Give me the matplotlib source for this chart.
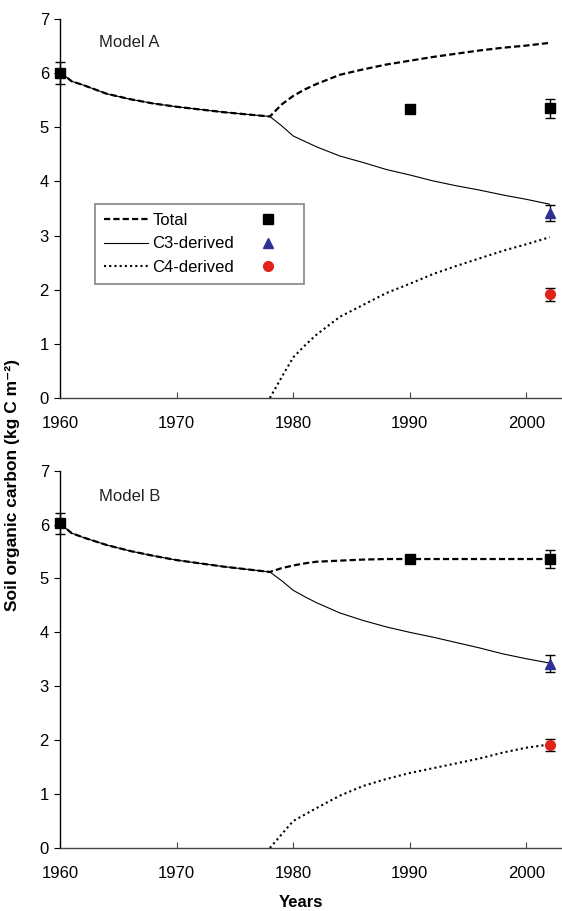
import matplotlib.pyplot as plt
from matplotlib.lines import Line2D
import numpy as np

plt.rcParams['font.family'] = ['Liberation Sans', 'DejaVu Sans']

# model curve years
yrs = [1960, 1961, 1962, 1964, 1966, 1968, 1970, 1972, 1974, 1976, 1978,
       1979, 1980, 1981, 1982, 1984, 1986, 1988, 1990, 1992, 1994, 1996, 1998, 2000, 2002]
yrs_c4 = [1978, 1979, 1980, 1981, 1982, 1984, 1986, 1988, 1990, 1992, 1994, 1996, 1998, 2000, 2002]

# Model A
total_a = [6.02, 5.85, 5.78, 5.62, 5.52, 5.44, 5.38, 5.33, 5.28, 5.24, 5.20,
           5.42, 5.58, 5.70, 5.80, 5.97, 6.07, 6.16, 6.23, 6.30, 6.36, 6.42, 6.47, 6.51, 6.56]
c3_a = [6.02, 5.85, 5.78, 5.62, 5.52, 5.44, 5.38, 5.33, 5.28, 5.24, 5.20,
        5.03, 4.84, 4.74, 4.64, 4.47, 4.35, 4.22, 4.12, 4.01, 3.92, 3.84, 3.75, 3.67, 3.58]
c4_a = [0, 0.38, 0.75, 0.97, 1.17, 1.50, 1.72, 1.94, 2.11, 2.29, 2.44, 2.58, 2.72, 2.84, 2.97]

# Model B
total_b = [6.02, 5.84, 5.76, 5.62, 5.51, 5.42, 5.34, 5.28, 5.22, 5.17, 5.12,
           5.19, 5.24, 5.28, 5.31, 5.33, 5.35, 5.36, 5.36, 5.36, 5.36, 5.36, 5.36, 5.36, 5.36]
c3_b = [6.02, 5.84, 5.76, 5.62, 5.51, 5.42, 5.34, 5.28, 5.22, 5.17, 5.12,
        4.96, 4.78, 4.66, 4.55, 4.36, 4.22, 4.10, 4.00, 3.91, 3.81, 3.71, 3.60, 3.51, 3.43]
c4_b = [0, 0.25, 0.50, 0.62, 0.74, 0.97, 1.15, 1.28, 1.39, 1.48, 1.57, 1.66, 1.77, 1.86, 1.92]

# observations
obs_years = [1960, 1990, 2002]
obs_total_a = [6.0, 5.33, 5.35]
obs_total_a_err = [0.2, 0, 0.17]
obs_total_b = [6.02, 5.36, 5.36]
obs_total_b_err = [0.19, 0, 0.17]
obs_c3_year = 2002
obs_c3_a, obs_c3_a_err = 3.42, 0.15
obs_c4_a, obs_c4_a_err = 1.92, 0.12
obs_c3_b, obs_c3_b_err = 3.42, 0.16
obs_c4_b, obs_c4_b_err = 1.91, 0.12

blue = '#2e3192'
red = '#e2231a'
dash = (0, (2.8, 1.4))
dot = (0, (1, 1.5))

fig = plt.figure(figsize=(5.62, 9.11), dpi=100)
ax_a = fig.add_axes([0.1068, 0.5631, 0.892, 0.416])
ax_b = fig.add_axes([0.1068, 0.0692, 0.892, 0.4142])


def draw(ax, total, c3, c4, ot, ote, oc3, oc3e, oc4, oc4e, title, ty):
    ax.plot(yrs, c3, color='black', lw=0.8, clip_on=False)
    ax.plot(yrs_c4, c4, color='black', lw=1.5, linestyle=dot, clip_on=False)
    ax.plot(yrs, total, color='black', lw=1.6, linestyle=dash, clip_on=False)
    eb = dict(capsize=3.5, elinewidth=1, capthick=1, ecolor='black', linestyle='none', clip_on=False)
    ax.errorbar(obs_years, ot, yerr=ote, marker='s', ms=6.5, color='black', **eb)
    ax.errorbar([obs_c3_year], [oc3], yerr=[oc3e], marker='^', ms=7.5, color=blue,
                markeredgecolor=blue, **eb)
    ax.errorbar([obs_c3_year], [oc4], yerr=[oc4e], marker='o', ms=7, color=red,
                markeredgecolor=red, **eb)
    ax.set_xlim(1960, 2003)
    ax.set_ylim(0, 7)
    ax.set_xticks([1960, 1970, 1980, 1990, 2000])
    ax.set_yticks(range(8))
    for s in ['top', 'right']:
        ax.spines[s].set_visible(False)
    ax.spines['left'].set_linewidth(1)
    ax.spines['bottom'].set_linewidth(1)
    ax.spines['bottom'].set_color('#444')
    ax.tick_params(axis='y', direction='out', length=4, labelsize=12, pad=4)
    ax.tick_params(axis='x', direction='in', length=4, labelsize=12, pad=13, color='#444')
    ax.text(0.078, ty, title, transform=ax.transAxes, fontsize=12, color='#222')


draw(ax_a, total_a, c3_a, c4_a, obs_total_a, obs_total_a_err,
     obs_c3_a, obs_c3_a_err, obs_c4_a, obs_c4_a_err, 'Model A', 0.927)
draw(ax_b, total_b, c3_b, c4_b, obs_total_b, obs_total_b_err,
     obs_c3_b, obs_c3_b_err, obs_c4_b, obs_c4_b_err, 'Model B', 0.92)

handles = [
    Line2D([], [], color='black', lw=1.6, linestyle=dash),
    Line2D([], [], color='black', lw=0.8),
    Line2D([], [], color='black', lw=1.5, linestyle=dot),
    Line2D([], [], color='black', marker='s', ms=6.5, linestyle='none'),
    Line2D([], [], color=blue, marker='^', ms=7.5, linestyle='none'),
    Line2D([], [], color=red, marker='o', ms=7, linestyle='none'),
]
labels = ['Total', 'C3-derived', 'C4-derived', '', '', '']
leg = ax_a.legend(handles, labels, ncol=2, loc='upper left', bbox_to_anchor=(0.07, 0.512),
                  borderaxespad=0, fontsize=12, frameon=True, fancybox=False,
                  handlelength=2.6, handletextpad=0.3, labelspacing=0.5,
                  columnspacing=0.7, borderpad=0.55)
leg.get_frame().set_edgecolor('#666')
leg.get_frame().set_linewidth(1.2)

fig.text(0.022, 0.468, 'Soil organic carbon (kg C m\u207b\u00b2)', rotation=90,
         ha='center', va='center', fontsize=12.5, fontweight='bold')
fig.text(0.535, 0.0095, 'Years', ha='center', va='center', fontsize=12, fontweight='bold')

fig.savefig('out.png', dpi=100)
